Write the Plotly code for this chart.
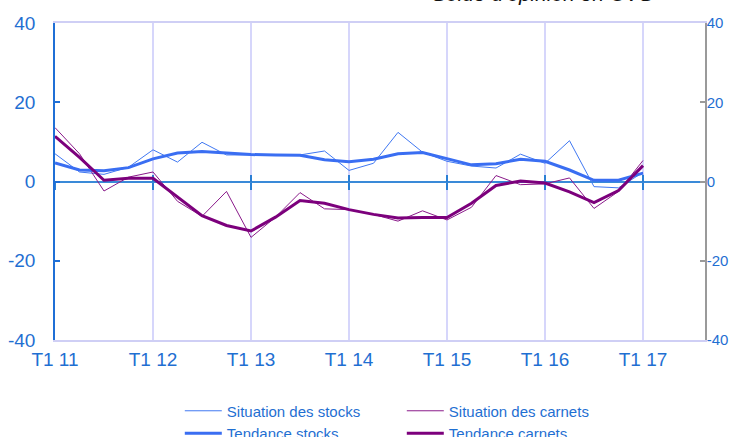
import plotly.graph_objects as go

quarters = ["T1 11","T2 11","T3 11","T4 11","T1 12","T2 12","T3 12","T4 12",
            "T1 13","T2 13","T3 13","T4 13","T1 14","T2 14","T3 14","T4 14",
            "T1 15","T2 15","T3 15","T4 15","T1 16","T2 16","T3 16","T4 16","T1 17"]
situation_stocks = [7.0, 2.4, 1.8, 3.6, 8.0, 4.9, 9.9, 6.7, 6.7, 6.7, 6.7, 7.7, 2.8,
                    4.6, 12.4, 7.4, 5.1, 3.9, 3.4, 6.9, 4.6, 10.3, -1.3, -1.6, 2.3]
tendance_stocks = [4.7, 2.9, 2.7, 3.5, 5.7, 7.2, 7.6, 7.2, 6.8, 6.7, 6.6, 5.5, 5.0,
                   5.6, 7.0, 7.3, 5.7, 4.2, 4.5, 5.6, 5.1, 2.9, 0.3, 0.3, 2.1]
situation_carnets = [13.6, 7.0, -2.4, 1.1, 2.4, -5.0, -8.8, -2.5, -14.1, -9.0, -2.8, -6.9, -7.1,
                     -8.3, -10.0, -7.4, -9.7, -6.5, 1.5, -0.8, -0.6, 0.9, -6.8, -2.5, 5.3]
tendance_carnets = [11.4, 6.1, 0.3, 0.8, 0.8, -4.0, -8.6, -11.1, -12.5, -9.0, -4.8, -5.5, -7.1,
                    -8.3, -9.2, -9.1, -9.1, -5.5, -1.0, 0.1, -0.4, -2.6, -5.3, -2.3, 4.0]
year_tick_labels = ["T1 11","T1 12","T1 13","T1 14","T1 15","T1 16","T1 17"]
y_ticks = [-40, -20, 0, 20, 40]
y_tick_labels = ["-40", "-20", "0", "20", "40"]

idx = list(range(len(quarters)))
year_tick_pos = [quarters.index(t) for t in year_tick_labels]

BLUE_TXT = "#1f6fd2"
FONT = "Liberation Sans, Arial, sans-serif"

fig = go.Figure()
fig.add_trace(go.Scatter(x=idx, y=situation_stocks, mode="lines", name="Situation des stocks",
                         line=dict(color="#4078f2", width=1)))
fig.add_trace(go.Scatter(x=idx, y=situation_carnets, mode="lines", name="Situation des carnets",
                         line=dict(color="#8a1a8a", width=1)))
fig.add_trace(go.Scatter(x=idx, y=tendance_stocks, mode="lines", name="Tendance stocks",
                         line=dict(color="#3a6ef2", width=3)))
fig.add_trace(go.Scatter(x=idx, y=tendance_carnets, mode="lines", name="Tendance carnets",
                         line=dict(color="#7c007c", width=3)))

xr = [0, 26.53]
fig.update_layout(
    width=732, height=437,
    margin=dict(l=55, r=27, t=23, b=97, autoexpand=False),
    paper_bgcolor="white", plot_bgcolor="white",
    font=dict(family=FONT, color=BLUE_TXT),
    showlegend=True,
    legend=dict(orientation="h", x=0.192, xanchor="left", y=-0.172, yanchor="top",
                entrywidth=170, entrywidthmode="pixels", itemwidth=37,
                font=dict(size=15, color=BLUE_TXT), bgcolor="rgba(0,0,0,0)",
                tracegroupgap=0),
    xaxis=dict(range=xr, tickvals=year_tick_pos, ticktext=year_tick_labels,
               showgrid=True, gridcolor="#d6d6fb", gridwidth=1.5,
               showline=True, linecolor="#cfcff5", linewidth=1.5, mirror=True,
               ticks="", tickfont=dict(size=19, color=BLUE_TXT), zeroline=False,
               ticklabelstandoff=1, automargin=False),
    xaxis2=dict(range=xr, overlaying="x", anchor="free", position=0.5,
                tickvals=year_tick_pos, ticks="inside", ticklen=7, tickwidth=1.5,
                tickcolor="#2a7fd4", showticklabels=False, showgrid=False,
                showline=False, zeroline=False, layer="below traces", automargin=False),
    xaxis3=dict(range=xr, overlaying="x", anchor="free", position=0.5,
                tickvals=year_tick_pos, ticks="outside", ticklen=7, tickwidth=1.5,
                tickcolor="#2a7fd4", showticklabels=False, showgrid=False,
                showline=False, zeroline=False, layer="below traces", automargin=False),
    yaxis=dict(range=[-40, 40], tickvals=y_ticks, ticktext=y_tick_labels, showgrid=False,
               zeroline=True, zerolinecolor="#3a8ad8", zerolinewidth=1.5,
               showline=True, linecolor="#1f6fd6", linewidth=1.5,
               ticks="inside", ticklen=5, tickcolor="#1f6fd6", tickwidth=1.5,
               tickfont=dict(size=19, color=BLUE_TXT), ticklabelstandoff=14,
               automargin=False),
    yaxis2=dict(range=[-40, 40], tickvals=y_ticks, ticktext=y_tick_labels,
                overlaying="y", side="right",
                anchor="x", showgrid=False, zeroline=False,
                showline=True, linecolor="#9a9a9a", linewidth=1.5,
                ticks="inside", ticklen=5, tickcolor="#9a9a9a", tickwidth=1.5,
                tickfont=dict(size=15, color=BLUE_TXT), ticklabelstandoff=-3,
                automargin=False),
)
# invisible helper traces so overlay axes are drawn
fig.add_trace(go.Scatter(x=[0], y=[0], xaxis="x2", mode="markers", marker=dict(opacity=0),
                         showlegend=False, hoverinfo="skip"))
fig.add_trace(go.Scatter(x=[0], y=[0], xaxis="x3", mode="markers", marker=dict(opacity=0),
                         showlegend=False, hoverinfo="skip"))
fig.add_trace(go.Scatter(x=[0], y=[0], yaxis="y2", mode="markers", marker=dict(opacity=0),
                         showlegend=False, hoverinfo="skip"))

fig.add_annotation(text="<i>Solde d'opinion en CVS</i>", xref="paper", yref="paper",
                   x=0.923, xanchor="right", y=1.049, yanchor="bottom", showarrow=False,
                   font=dict(size=21, color="#111111", family=FONT))

fig.write_html("out.html", config={"displayModeBar": False},
               post_script="document.body.style.margin='0';document.body.style.overflow='hidden';")
